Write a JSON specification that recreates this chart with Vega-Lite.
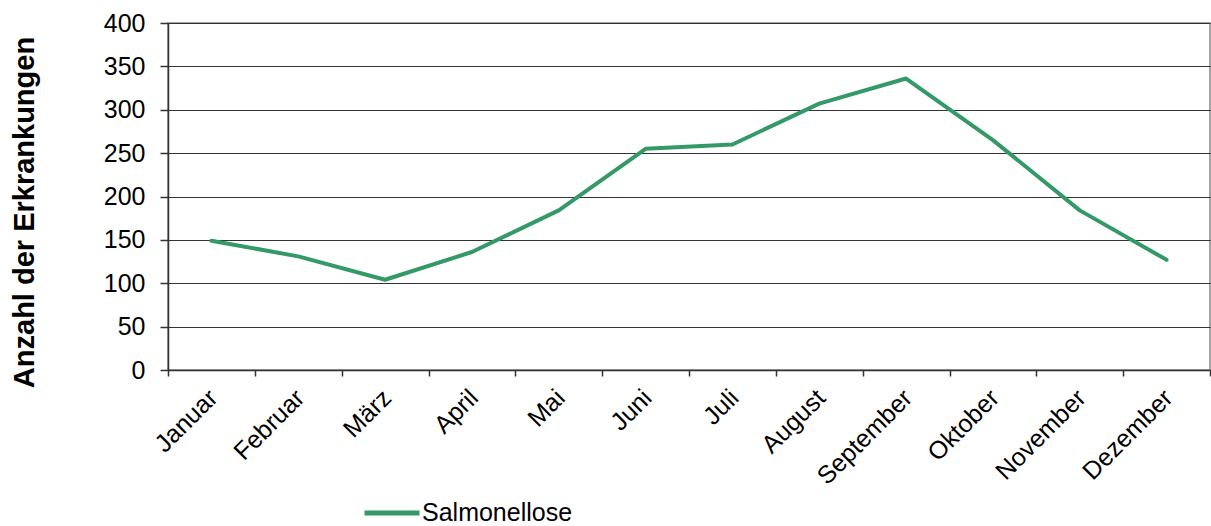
{
  "$schema": "https://vega.github.io/schema/vega-lite/v6.json",
  "width": 1042,
  "height": 347,
  "autosize": "none",
  "padding": {"left": 168, "top": 23, "right": 1, "bottom": 156},
  "background": "white",
  "config": {
    "font": "Liberation Sans",
    "view": {"stroke": "#888888", "strokeWidth": 1.5}
  },
  "data": {
    "values": [
      {"Monat": "Januar", "Anzahl": 149, "Serie": "Salmonellose"},
      {"Monat": "Februar", "Anzahl": 131, "Serie": "Salmonellose"},
      {"Monat": "März", "Anzahl": 104, "Serie": "Salmonellose"},
      {"Monat": "April", "Anzahl": 136, "Serie": "Salmonellose"},
      {"Monat": "Mai", "Anzahl": 184, "Serie": "Salmonellose"},
      {"Monat": "Juni", "Anzahl": 255, "Serie": "Salmonellose"},
      {"Monat": "Juli", "Anzahl": 260, "Serie": "Salmonellose"},
      {"Monat": "August", "Anzahl": 307, "Serie": "Salmonellose"},
      {"Monat": "September", "Anzahl": 336, "Serie": "Salmonellose"},
      {"Monat": "Oktober", "Anzahl": 265, "Serie": "Salmonellose"},
      {"Monat": "November", "Anzahl": 184, "Serie": "Salmonellose"},
      {"Monat": "Dezember", "Anzahl": 127, "Serie": "Salmonellose"}
    ]
  },
  "mark": {"type": "line", "strokeWidth": 4, "strokeCap": "round", "strokeJoin": "round"},
  "encoding": {
    "x": {
      "field": "Monat",
      "type": "nominal",
      "sort": null,
      "scale": {"paddingInner": 0, "paddingOuter": 0},
      "axis": {
        "title": null,
        "labelAngle": -45,
        "labelAlign": "right",
        "labelBaseline": "top",
        "labelFontSize": 25,
        "labelColor": "#000000",
        "labelPadding": 9,
        "labelOffset": -7,
        "tickBand": "extent",
        "tickSize": 6,
        "tickColor": "#333333",
        "tickWidth": 1.5,
        "domainColor": "#333333",
        "domainWidth": 1.5,
        "grid": false
      }
    },
    "y": {
      "field": "Anzahl",
      "type": "quantitative",
      "scale": {"domain": [0, 400], "nice": false},
      "axis": {
        "title": "Anzahl der Erkrankungen",
        "titleFontSize": 29,
        "titleFontWeight": "bold",
        "titleColor": "#000000",
        "titlePadding": 64,
        "titleY": 189,
        "titleAlign": "center",
        "values": [0, 50, 100, 150, 200, 250, 300, 350, 400],
        "labelFontSize": 25,
        "labelColor": "#000000",
        "labelPadding": 15,
        "tickSize": 8,
        "tickColor": "#333333",
        "tickWidth": 1.5,
        "domainColor": "#333333",
        "domainWidth": 1.5,
        "grid": true,
        "gridColor": "#333333",
        "gridWidth": 1.2
      }
    },
    "color": {
      "field": "Serie",
      "type": "nominal",
      "scale": {"range": ["#339966"]},
      "legend": {
        "title": null,
        "orient": "none",
        "legendX": 194,
        "legendY": 460,
        "padding": 0,
        "symbolType": "stroke",
        "symbolSize": 3025,
        "symbolStrokeWidth": 5,
        "labelFontSize": 25,
        "labelColor": "#000000",
        "labelOffset": 0
      }
    }
  }
}
